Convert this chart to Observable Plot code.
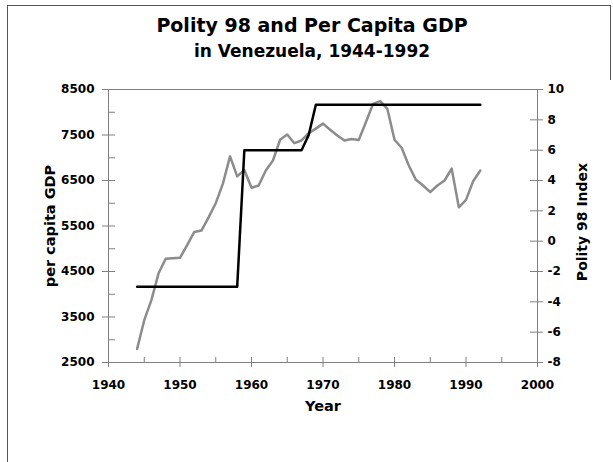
<!DOCTYPE html>
<html><head><meta charset="utf-8">
<script src="https://cdn.jsdelivr.net/npm/d3@7"></script>
<script src="https://cdn.jsdelivr.net/npm/@observablehq/plot@0.6"></script>
<style>
body{margin:0;background:#fff;}
#wrap{position:relative;width:613px;height:462px;overflow:hidden;font-family:"DejaVu Sans",sans-serif;font-weight:bold;}
.t{position:absolute;left:0;width:624px;text-align:center;white-space:nowrap;color:#000;}
#t1{top:16px;font-size:19px;line-height:19px;}
#t2{top:43px;font-size:17px;line-height:17px;}
#bt{position:absolute;left:7px;top:5px;width:603px;height:0;border-top:1.5px solid #555;}
#bl{position:absolute;left:7px;top:5px;width:0;height:457px;border-left:1.5px solid #555;}
#br{position:absolute;left:610px;top:5px;width:0;height:75px;border-left:1.5px solid #555;}
#chart{position:absolute;left:0;top:0;}
</style></head>
<body>
<div id="wrap">
  <div id="chart"></div>
  <div id="bt"></div><div id="bl"></div><div id="br"></div>
  <div class="t" id="t1">Polity 98 and Per Capita GDP</div>
  <div class="t" id="t2">in Venezuela, 1944-1992</div>
</div>
<script>
const years = [1944,1945,1946,1947,1948,1949,1950,1951,1952,1953,1954,1955,1956,1957,1958,1959,1960,1961,1962,1963,1964,1965,1966,1967,1968,1969,1970,1971,1972,1973,1974,1975,1976,1977,1978,1979,1980,1981,1982,1983,1984,1985,1986,1987,1988,1989,1990,1991,1992];
const gdp = [2800,3430,3870,4460,4780,4790,4800,5080,5370,5400,5690,6000,6430,7030,6590,6730,6340,6390,6720,6940,7395,7510,7320,7380,7540,7640,7750,7615,7490,7380,7410,7390,7780,8185,8245,8075,7395,7220,6830,6515,6390,6245,6390,6500,6760,5910,6075,6485,6720];
const polity = [-3,-3,-3,-3,-3,-3,-3,-3,-3,-3,-3,-3,-3,-3,-3,6,6,6,6,6,6,6,6,6,7,9,9,9,9,9,9,9,9,9,9,9,9,9,9,9,9,9,9,9,9,9,9,9,9];
const gdpTicks = [2500,3500,4500,5500,6500,7500,8500];
const gdpMinorTicks = [3000,4000,5000,6000,7000,8000];
const polityTicks = [-8,-6,-4,-2,0,2,4,6,8,10];
const yearTicks = [1940,1950,1960,1970,1980,1990,2000];
const yearMinorTicks = [1945,1955,1965,1975,1985,1995];
const gdpDomain = [2500,8500];
const polityDomain = [-8,10];
const yearDomain = [1940,2000];

const toG = v => gdpDomain[0] + (v - polityDomain[0]) * (gdpDomain[1]-gdpDomain[0]) / (polityDomain[1]-polityDomain[0]);
const fromG = g => String(Math.round(polityDomain[0] + (g - gdpDomain[0]) * (polityDomain[1]-polityDomain[0]) / (gdpDomain[1]-gdpDomain[0])));

const gdpRows = years.map((y,i) => ({year:y, v:gdp[i]}));
const polRows = years.map((y,i) => ({year:y, v:toG(polity[i])}));

const W = 613, H = 462, mL = 108, mR = 76, mT = 89, mB = 100;
const FW = W - mL - mR, FH = H - mT - mB;
const G = "#808080";

const chart = Plot.plot({
  width: W, height: H,
  marginLeft: mL, marginRight: mR, marginTop: mT, marginBottom: mB,
  style: {fontFamily: "DejaVu Sans, sans-serif", fontWeight: "bold", fontSize: "12px", color: "#000", background: "transparent"},
  x: {domain: yearDomain},
  y: {domain: gdpDomain},
  marks: [
    Plot.frame({stroke: G, strokeWidth: 1}),
    Plot.ruleY(gdpTicks, {stroke: G, insetLeft: -6, insetRight: FW - 7}),
    Plot.ruleY(gdpMinorTicks, {stroke: G, insetLeft: 0, insetRight: FW - 7}),
    Plot.ruleY(polityTicks.map(toG), {stroke: G, insetLeft: FW - 7, insetRight: -6}),
    Plot.ruleX(yearTicks, {stroke: G, insetTop: FH - 5, insetBottom: -5}),
    Plot.ruleX(yearMinorTicks, {stroke: G, insetTop: FH - 5, insetBottom: -1}),
    Plot.axisY(gdpTicks, {anchor: "left", tickSize: 0, tickPadding: 14, tickFormat: d => String(d), label: null}),
    Plot.axisY(polityTicks.map(toG), {anchor: "right", tickSize: 0, tickPadding: 10, tickFormat: fromG, label: null}),
    Plot.axisX(yearTicks, {anchor: "bottom", tickSize: 0, tickPadding: 18, tickFormat: d => String(d), label: null}),
    Plot.line(gdpRows, {x: "year", y: "v", stroke: "#8c8c8c", strokeWidth: 2.5}),
    Plot.line(polRows, {x: "year", y: "v", stroke: "#000", strokeWidth: 2.5}),
    Plot.text(["per capita GDP"], {text: d => d, frameAnchor: "left", textAnchor: "middle", lineAnchor: "middle", rotate: -90, dx: -58.6, fontSize: 14.5, fontWeight: "bold", fill: "#000"}),
    Plot.text(["Polity 98 Index"], {text: d => d, frameAnchor: "right", textAnchor: "middle", lineAnchor: "middle", rotate: -90, dx: 45.5, dy: -4, fontSize: 14, fontWeight: "bold", fill: "#000"}),
    Plot.text(["Year"], {text: d => d, frameAnchor: "bottom", textAnchor: "middle", lineAnchor: "top", dy: 38, fontSize: 14.5, fontWeight: "bold", fill: "#000"})
  ]
});
document.getElementById("chart").appendChild(chart);
</script>
</body></html>
